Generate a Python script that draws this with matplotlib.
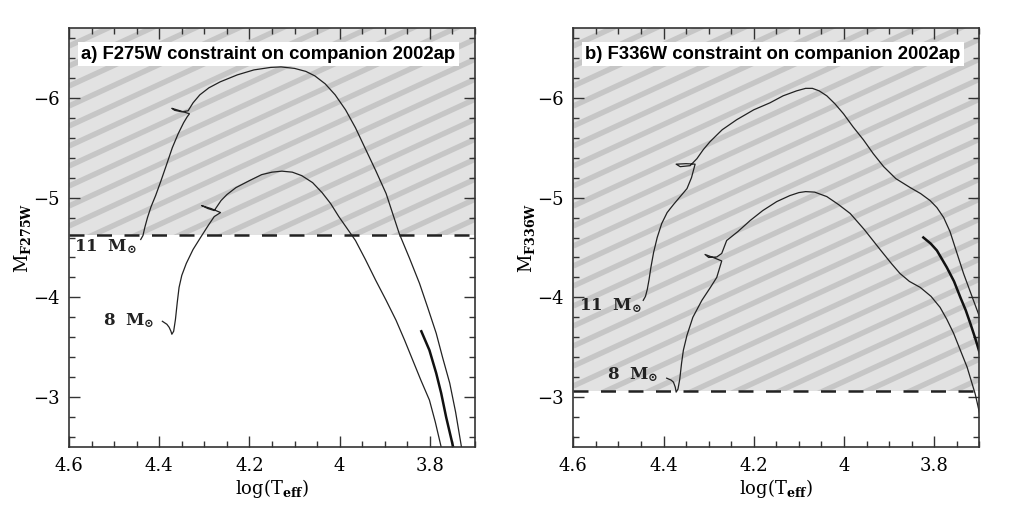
import numpy as np
import matplotlib
matplotlib.use('Agg')
import matplotlib.pyplot as plt
from matplotlib.patches import Rectangle
from matplotlib.ticker import MultipleLocator, FuncFormatter

# ---- data ----
# panel a) F275W
a11_logt = [4.441, 4.436, 4.432, 4.426, 4.418, 4.408, 4.396, 4.383, 4.371, 4.358, 4.346,
            4.338, 4.333, 4.350, 4.372, 4.366, 4.350, 4.336, 4.325, 4.31, 4.29, 4.265,
            4.227, 4.19, 4.153, 4.13, 4.10, 4.075, 4.055, 4.032, 4.01, 3.987, 3.965,
            3.942, 3.92, 3.897, 3.868, 3.845, 3.823, 3.805, 3.786, 3.772, 3.756, 3.743,
            3.730]
a11_mag = [-4.58, -4.62, -4.70, -4.80, -4.91, -5.02, -5.17, -5.34, -5.50, -5.64, -5.75,
           -5.81, -5.84, -5.865, -5.895, -5.875, -5.86, -5.87, -5.95, -6.03, -6.10, -6.16,
           -6.23, -6.28, -6.305, -6.31, -6.295, -6.265, -6.22, -6.14, -6.03, -5.88, -5.70,
           -5.48, -5.27, -5.04, -4.64, -4.39, -4.14, -3.90, -3.64, -3.40, -3.14, -2.85,
           -2.5]
a8_logt = [4.393, 4.383, 4.378, 4.374, 4.372, 4.368, 4.364, 4.360, 4.356, 4.350, 4.340,
           4.325, 4.307, 4.29, 4.278, 4.264, 4.285, 4.306, 4.292, 4.278, 4.263, 4.25,
           4.23, 4.20, 4.173, 4.15, 4.128, 4.105, 4.084, 4.06, 4.039, 4.02, 4.002, 3.985,
           3.965, 3.943, 3.920, 3.897, 3.875, 3.856, 3.838, 3.82, 3.801, 3.788, 3.775]
a8_mag = [-3.76, -3.73, -3.70, -3.66, -3.63, -3.66, -3.78, -3.95, -4.10, -4.22, -4.34,
          -4.48, -4.61, -4.73, -4.81, -4.85, -4.89, -4.92, -4.89, -4.87, -4.97, -5.03,
          -5.10, -5.17, -5.23, -5.255, -5.265, -5.255, -5.22, -5.15, -5.05, -4.94, -4.81,
          -4.70, -4.57, -4.38, -4.17, -3.97, -3.77, -3.57, -3.37, -3.17, -2.97, -2.75,
          -2.5]
a_loop_logt = [3.819, 3.801, 3.786, 3.775, 3.764, 3.752, 3.747]
a_loop_mag = [-3.66, -3.47, -3.24, -3.04, -2.80, -2.57, -2.47]
a_limit = -4.63

# panel b) F336W
b11_logt = [4.445, 4.440, 4.436, 4.432, 4.428, 4.422, 4.414, 4.404, 4.392, 4.378, 4.363,
            4.348, 4.338, 4.330, 4.350, 4.372, 4.363, 4.341, 4.326, 4.312, 4.297, 4.27,
            4.238, 4.20, 4.164, 4.135, 4.105, 4.085, 4.07, 4.055, 4.038, 4.02, 4.001,
            3.98, 3.957, 3.935, 3.912, 3.885, 3.853, 3.83, 3.809, 3.794, 3.779, 3.765,
            3.750, 3.735, 3.713, 3.699]
b11_mag = [-3.97, -4.01, -4.08, -4.18, -4.30, -4.45, -4.60, -4.74, -4.85, -4.93, -5.01,
           -5.09, -5.20, -5.335, -5.34, -5.335, -5.31, -5.32, -5.39, -5.48, -5.56, -5.68,
           -5.78, -5.88, -5.95, -6.02, -6.07, -6.095, -6.095, -6.07, -6.02, -5.94, -5.84,
           -5.71, -5.58, -5.44, -5.31, -5.19, -5.10, -5.04, -4.97, -4.90, -4.80, -4.66,
           -4.45, -4.24, -3.97, -3.80]
b8_logt = [4.393, 4.383, 4.378, 4.374, 4.372, 4.368, 4.364, 4.360, 4.356, 4.348, 4.335,
           4.315, 4.296, 4.282, 4.271, 4.290, 4.308, 4.300, 4.282, 4.271, 4.260, 4.235,
           4.208, 4.18, 4.149, 4.12, 4.10, 4.085, 4.065, 4.038, 4.012, 3.986, 3.955, 3.920,
           3.895, 3.876, 3.855, 3.831, 3.807, 3.787, 3.772, 3.757, 3.742, 3.727, 3.709,
           3.699]
b8_mag = [-3.19, -3.17, -3.15, -3.10, -3.05, -3.08, -3.18, -3.34, -3.47, -3.62, -3.80,
          -3.97, -4.10, -4.20, -4.365, -4.40, -4.43, -4.40, -4.405, -4.44, -4.57, -4.66,
          -4.77, -4.87, -4.96, -5.02, -5.05, -5.06, -5.055, -5.01, -4.93, -4.84, -4.68,
          -4.48, -4.34, -4.24, -4.16, -4.10, -4.01, -3.90, -3.78, -3.64, -3.47, -3.30,
          -3.03, -2.83]
b_loop_logt = [3.824, 3.808, 3.794, 3.772, 3.756, 3.742, 3.730, 3.720, 3.709, 3.699]
b_loop_mag = [-4.60, -4.54, -4.47, -4.30, -4.16, -4.00, -3.87, -3.74, -3.59, -3.44]
b_limit = -3.06

panels = [
    dict(title='a) F275W constraint on companion 2002ap', band='F275W',
         t11=a11_logt, m11=a11_mag, t8=a8_logt, m8=a8_mag,
         tl=a_loop_logt, ml=a_loop_mag, limit=a_limit,
         lab11=(4.441, -4.51), lab8=(4.403, -3.77)),
    dict(title='b) F336W constraint on companion 2002ap', band='F336W',
         t11=b11_logt, m11=b11_mag, t8=b8_logt, m8=b8_mag,
         tl=b_loop_logt, ml=b_loop_mag, limit=b_limit,
         lab11=(4.441, -3.92), lab8=(4.403, -3.23)),
]

plt.rcParams['font.family'] = ['DejaVu Serif']
plt.rcParams['mathtext.fontset'] = 'dejavuserif'


def fmt(v, pos):
    return ('%g' % v).replace('-', '\u2212')


fig = plt.figure(figsize=(10.29, 5.26), dpi=100)
lefts = [69 / 1029, 573.3 / 1029]
XMAX, XMIN = 4.6, 3.7
YBOT, YTOP = -2.5, -6.7

for left, p in zip(lefts, panels):
    ax = fig.add_axes([left, 1 - 447 / 526, 406 / 1029, 419 / 526])
    ax.set_xlim(XMAX, XMIN)
    ax.set_ylim(YBOT, YTOP)

    # shaded excluded region with stripes
    rect = Rectangle((XMIN, p['limit']), XMAX - XMIN, YTOP - p['limit'],
                     facecolor='#e2e2e2', edgecolor='none', zorder=0)
    ax.add_patch(rect)
    slope = 0.46 * 406 / 419
    step = 20 / 419
    for c in np.arange(-1.0, 1.2, step):
        ln, = ax.plot([0, 1], [c, c + slope], transform=ax.transAxes,
                      color='#c6c6c6', lw=3.9, solid_capstyle='butt', zorder=0.5)
        ln.set_clip_path(rect)

    ax.axhline(p['limit'], color='#222222', lw=1.8, dashes=(6, 5), zorder=3)

    ax.plot(p['t11'], p['m11'], color='#222222', lw=0.9, zorder=2)
    ax.plot(p['t8'], p['m8'], color='#222222', lw=0.9, zorder=2)
    ax.plot(p['tl'], p['ml'], color='#111111', lw=1.8, zorder=2)

    ax.text(p['lab11'][0] + 0.008, p['lab11'][1], r'$\mathbf{11\ \ M}_{\mathbf{\odot}}$',
            ha='right', va='center', fontsize=12, color='#222222', zorder=4)
    ax.text(p['lab8'][0] + 0.008, p['lab8'][1], r'$\mathbf{8\ \ M}_{\mathbf{\odot}}$',
            ha='right', va='center', fontsize=12, color='#222222', zorder=4)

    ax.text(0.03, 0.937, p['title'], transform=ax.transAxes, ha='left', va='center',
            fontsize=13.3, fontweight='bold', family='Liberation Sans', zorder=5,
            bbox=dict(facecolor='white', edgecolor='none', pad=2.5))

    ax.xaxis.set_major_locator(MultipleLocator(0.2))
    ax.xaxis.set_minor_locator(MultipleLocator(0.05))
    ax.yaxis.set_major_locator(MultipleLocator(1))
    ax.yaxis.set_minor_locator(MultipleLocator(0.2))
    ax.xaxis.set_major_formatter(FuncFormatter(fmt))
    ax.yaxis.set_major_formatter(FuncFormatter(fmt))
    ax.tick_params(which='both', direction='in', top=True, right=True,
                   color='#333333', width=1.0, labelsize=13)
    ax.tick_params(which='major', length=8, pad=7)
    ax.tick_params(which='minor', length=4)
    for s in ax.spines.values():
        s.set_color('#333333')
        s.set_linewidth(1.2)
        s.set_zorder(6)

    ax.set_xlabel(r'log(T$_{\mathbf{eff}}$)', fontsize=13, labelpad=2)
    ax.set_ylabel(r'M$_{\mathbf{' + p['band'] + '}}$', fontsize=13, labelpad=0)

fig.savefig('out.png', dpi=100)
